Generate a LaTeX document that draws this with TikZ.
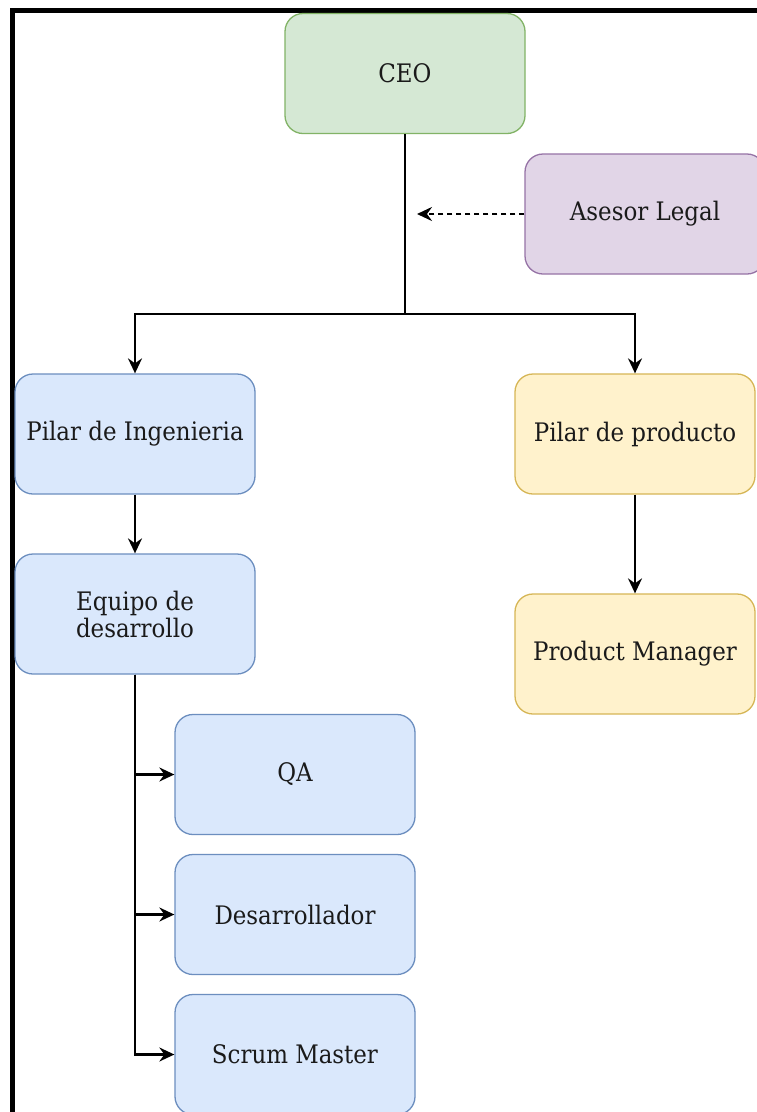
\documentclass[tikz,border=0pt]{standalone}
\usepackage{fontspec}
\setmainfont{DejaVu Serif Condensed}
\usetikzlibrary{arrows.meta}
\definecolor{gfill}{HTML}{D5E8D4}\definecolor{gdraw}{HTML}{82B366}
\definecolor{pfill}{HTML}{E1D5E7}\definecolor{pdraw}{HTML}{9673A6}
\definecolor{bfill}{HTML}{DAE8FC}\definecolor{bdraw}{HTML}{6C8EBF}
\definecolor{yfill}{HTML}{FFF2CC}\definecolor{ydraw}{HTML}{D6B656}
\definecolor{txt}{HTML}{1A1A1A}
\begin{document}
\begin{tikzpicture}[x=1pt,y=-1pt,
  box/.style={rectangle,rounded corners=18pt,minimum width=240pt,minimum height=120pt,
    line width=1.3pt,inner sep=0pt,align=center,text=txt,
    font=\fontsize{25.5}{27}\selectfont},
  green/.style={box,fill=gfill,draw=gdraw},
  purple/.style={box,fill=pfill,draw=pdraw},
  blue/.style={box,fill=bfill,draw=bdraw},
  yellow/.style={box,fill=yfill,draw=ydraw},
  conn/.style={line width=2.2pt,-{Stealth[length=15pt,width=14pt,inset=5pt]}},
  plain/.style={line width=2.2pt}]
\useasboundingbox (0,0) rectangle (757,1112);
\fill[white] (0,0) rectangle (757,1112);
\draw[line width=5pt] (12.5,1120) -- (12.5,10.8) -- (765,10.8);
\node[green]  (ceo)   at (405,73.5) {CEO};
\node[purple] (legal) at (645,214) {Asesor Legal};
\node[blue]   (pi)    at (135,434) {Pilar de Ingenieria};
\node[yellow] (pp)    at (635,434) {Pilar de producto};
\node[blue]   (eq)    at (135,614) {Equipo de\\desarrollo};
\node[yellow] (pm)    at (635,654) {Product Manager};
\node[blue]   (qa)    at (295,774.5) {QA};
\node[blue]   (dev)   at (295,914.5) {Desarrollador};
\node[blue]   (sm)    at (295,1054.5) {Scrum Master};
\coordinate (j) at (405,314);
\coordinate (la) at (417,214);
\draw[plain] (ceo.south) -- (j);
\draw[conn] (j) -| (pi.north);
\draw[conn] (j) -| (pp.north);
\draw[conn,dashed,dash pattern=on 5pt off 4pt] (legal.west) -- (la);
\draw[conn] (pi.south) -- (eq.north);
\draw[conn] (pp.south) -- (pm.north);
\draw[conn] (eq.south) |- (qa.west);
\draw[conn] (eq.south) |- (dev.west);
\draw[conn] (eq.south) |- (sm.west);
\end{tikzpicture}
\end{document}
